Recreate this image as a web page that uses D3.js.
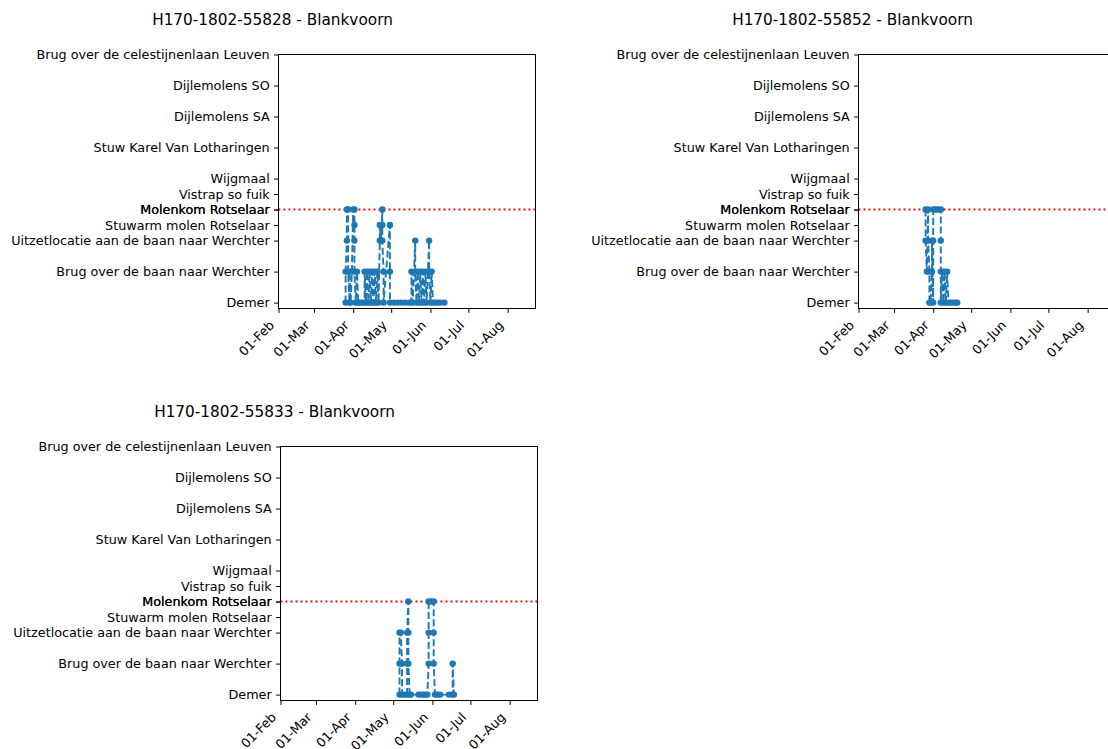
<!DOCTYPE html>
<html>
<head>
<meta charset="utf-8">
<script src="https://cdn.jsdelivr.net/npm/d3@7"></script>
<style>
  body { margin: 0; background: #fff; }
  svg { display: block; }
  text { font-family: "DejaVu Sans", sans-serif; fill: #000; }
</style>
</head>
<body>
<svg id="chart" width="1108" height="749"></svg>
<script>
// Receiver stations along the Dijle / Demer, bottom to top, with their position on the river axis.
// Two receivers share the Molenkom Rotselaar position.
const stationNames = [
  "Demer",
  "Brug over de baan naar Werchter",
  "Uitzetlocatie aan de baan naar Werchter",
  "Stuwarm molen Rotselaar",
  "Molenkom Rotselaar",
  "Molenkom Rotselaar",
  "Vistrap so fuik",
  "Wijgmaal",
  "Stuw Karel Van Lotharingen",
  "Dijlemolens SA",
  "Dijlemolens SO",
  "Brug over de celestijnenlaan Leuven"
];
const stationPositions = [0, 1, 2, 2.5, 3, 3, 3.5, 4, 5, 6, 7, 8];
const barrierPosition = 3;            // Molenkom Rotselaar
const positionRange = [-0.19, 8];

const monthTicks = ["2019-02-01", "2019-03-01", "2019-04-01", "2019-05-01",
                    "2019-06-01", "2019-07-01", "2019-08-01"];
const dateRange = ["2019-02-01", "2019-08-23"];

const tagIds = ["H170-1802-55828", "H170-1802-55852", "H170-1802-55833"];
const species = "Blankvoorn";

// Detections per tag: [date, river position]
const track55828 = [
  ["2019-03-26", 0], ["2019-03-26", 1], ["2019-03-27", 2], ["2019-03-27", 3],
  ["2019-03-28", 3], ["2019-03-28", 1], ["2019-03-29", 0], ["2019-03-29", 1],
  ["2019-03-30", 0], ["2019-03-31", 1], ["2019-04-01", 3], ["2019-04-02", 3],
  ["2019-04-02", 2.5], ["2019-04-02", 2], ["2019-04-02", 1], ["2019-04-03", 0],
  ["2019-04-04", 1], ["2019-04-05", 0], ["2019-04-06", 0], ["2019-04-08", 0],
  ["2019-04-10", 0], ["2019-04-10", 1], ["2019-04-11", 0], ["2019-04-12", 1],
  ["2019-04-13", 0], ["2019-04-14", 1], ["2019-04-15", 0], ["2019-04-16", 1],
  ["2019-04-17", 0], ["2019-04-18", 1], ["2019-04-19", 0], ["2019-04-20", 1],
  ["2019-04-21", 0], ["2019-04-22", 2], ["2019-04-22", 2.5], ["2019-04-23", 2],
  ["2019-04-24", 3], ["2019-04-24", 2.5], ["2019-04-24", 2], ["2019-04-25", 1],
  ["2019-04-25", 0], ["2019-04-30", 2.5], ["2019-04-30", 1], ["2019-04-30", 0],
  ["2019-05-03", 0], ["2019-05-06", 0], ["2019-05-09", 0], ["2019-05-12", 0],
  ["2019-05-15", 0], ["2019-05-17", 0], ["2019-05-17", 1], ["2019-05-18", 0],
  ["2019-05-20", 2], ["2019-05-20", 1], ["2019-05-21", 0], ["2019-05-22", 1],
  ["2019-05-23", 0], ["2019-05-24", 1], ["2019-05-25", 0], ["2019-05-26", 1],
  ["2019-05-27", 0], ["2019-05-28", 1], ["2019-05-29", 0], ["2019-05-31", 2],
  ["2019-05-31", 1], ["2019-06-01", 0], ["2019-06-02", 1], ["2019-06-03", 0],
  ["2019-06-05", 0], ["2019-06-07", 0], ["2019-06-09", 0], ["2019-06-12", 0]
];
const track55852 = [
  ["2019-03-26", 3], ["2019-03-26", 2], ["2019-03-27", 1], ["2019-03-28", 3],
  ["2019-03-28", 2], ["2019-03-29", 1], ["2019-03-29", 0], ["2019-03-30", 0],
  ["2019-03-31", 1], ["2019-03-31", 2], ["2019-04-01", 0], ["2019-04-01", 2],
  ["2019-04-01", 3], ["2019-04-03", 3], ["2019-04-05", 3], ["2019-04-07", 3],
  ["2019-04-07", 2], ["2019-04-07", 1], ["2019-04-07", 0], ["2019-04-08", 1],
  ["2019-04-09", 0], ["2019-04-10", 1], ["2019-04-11", 0], ["2019-04-12", 1],
  ["2019-04-13", 0], ["2019-04-15", 0], ["2019-04-17", 0], ["2019-04-19", 0],
  ["2019-04-20", 0]
];
const track55833 = [
  ["2019-05-06", 0], ["2019-05-06", 1], ["2019-05-06", 2], ["2019-05-07", 2],
  ["2019-05-08", 1], ["2019-05-08", 0], ["2019-05-10", 0], ["2019-05-12", 0],
  ["2019-05-12", 1], ["2019-05-12", 2], ["2019-05-13", 3], ["2019-05-13", 2],
  ["2019-05-13", 1], ["2019-05-14", 0], ["2019-05-15", 0], ["2019-05-21", 0],
  ["2019-05-23", 0], ["2019-05-25", 0], ["2019-05-27", 0], ["2019-05-28", 0],
  ["2019-05-29", 1], ["2019-05-29", 2], ["2019-05-29", 3], ["2019-05-31", 3],
  ["2019-06-02", 3], ["2019-06-02", 2], ["2019-06-02", 1], ["2019-06-03", 0],
  ["2019-06-05", 0], ["2019-06-07", 0], ["2019-06-14", 0], ["2019-06-17", 0],
  ["2019-06-17", 1], ["2019-06-18", 0]
];
const tracks = [track55828, track55852, track55833];

// Panel frames (left, top) in pixels; all share the same size.
const panels = [
  { left: 278.5, top: 54.5 },
  { left: 858.5, top: 54.5 },
  { left: 280.5, top: 446.5 }
];
const panelWidth = 257;
const panelHeight = 254;

const blue = "#1f77b4";
const tickFont = 12.75;
const titleFont = 15.3;
const parseDay = d3.utcParse("%Y-%m-%d");
const fmtTick = d3.utcFormat("%d-%b");

const svg = d3.select("#chart");

tracks.forEach((track, i) => {
  const p = panels[i];
  const g = svg.append("g").attr("transform", `translate(${p.left},${p.top})`);

  const x = d3.scaleUtc()
    .domain(dateRange.map(parseDay))
    .range([0, panelWidth]);
  const y = d3.scaleLinear()
    .domain(positionRange)
    .range([panelHeight, 0]);

  // Station axis
  const yAxis = d3.axisLeft(y)
    .tickValues(stationPositions)
    .tickFormat((d, k) => stationNames[k])
    .tickSize(4.4)
    .tickSizeOuter(0)
    .tickPadding(4.4);
  const yG = g.append("g").call(yAxis);
  yG.select(".domain").remove();
  yG.selectAll(".tick line").attr("stroke", "#000").attr("stroke-width", 1);
  yG.selectAll(".tick text")
    .attr("font-size", tickFont)
    .attr("font-family", "DejaVu Sans, sans-serif")
    .attr("fill", "#000");

  // Date axis with rotated month labels
  const xAxis = d3.axisBottom(x)
    .tickValues(monthTicks.map(parseDay))
    .tickFormat(fmtTick)
    .tickSize(4.4)
    .tickSizeOuter(0);
  const xG = g.append("g")
    .attr("transform", `translate(0,${panelHeight})`)
    .call(xAxis);
  xG.select(".domain").remove();
  xG.selectAll(".tick line").attr("stroke", "#000").attr("stroke-width", 1);
  xG.selectAll(".tick text")
    .attr("font-size", tickFont)
    .attr("font-family", "DejaVu Sans, sans-serif")
    .attr("fill", "#000")
    .attr("x", 0).attr("y", 0).attr("dy", null)
    .attr("text-anchor", "end")
    .attr("transform", "translate(-4,17.5) rotate(-45)");

  // Reference line at the barrier
  g.append("line")
    .attr("x1", 0).attr("x2", panelWidth)
    .attr("y1", y(barrierPosition)).attr("y2", y(barrierPosition))
    .attr("stroke", "red")
    .attr("stroke-width", 1.9)
    .attr("stroke-dasharray", "1.9,3.1");

  // Track: dashed connection plus detection markers
  const pts = track.map(([d, v]) => ({ t: parseDay(d), v }));
  const line = d3.line().x(d => x(d.t)).y(d => y(d.v));
  g.append("path")
    .datum(pts)
    .attr("d", line)
    .attr("fill", "none")
    .attr("stroke", blue)
    .attr("stroke-width", 1.9)
    .attr("stroke-dasharray", "7,3");
  g.selectAll("circle.det")
    .data(pts)
    .join("circle")
    .attr("class", "det")
    .attr("cx", d => x(d.t))
    .attr("cy", d => y(d.v))
    .attr("r", 3.2)
    .attr("fill", blue);

  // Frame
  g.append("rect")
    .attr("width", panelWidth).attr("height", panelHeight)
    .attr("fill", "none")
    .attr("stroke", "#000")
    .attr("stroke-width", 1);

  // Title
  svg.append("text")
    .attr("x", p.left - 6)
    .attr("y", p.top - 30)
    .attr("text-anchor", "middle")
    .attr("font-size", titleFont)
    .text(`${tagIds[i]} - ${species}`);
});
</script>
</body>
</html>
